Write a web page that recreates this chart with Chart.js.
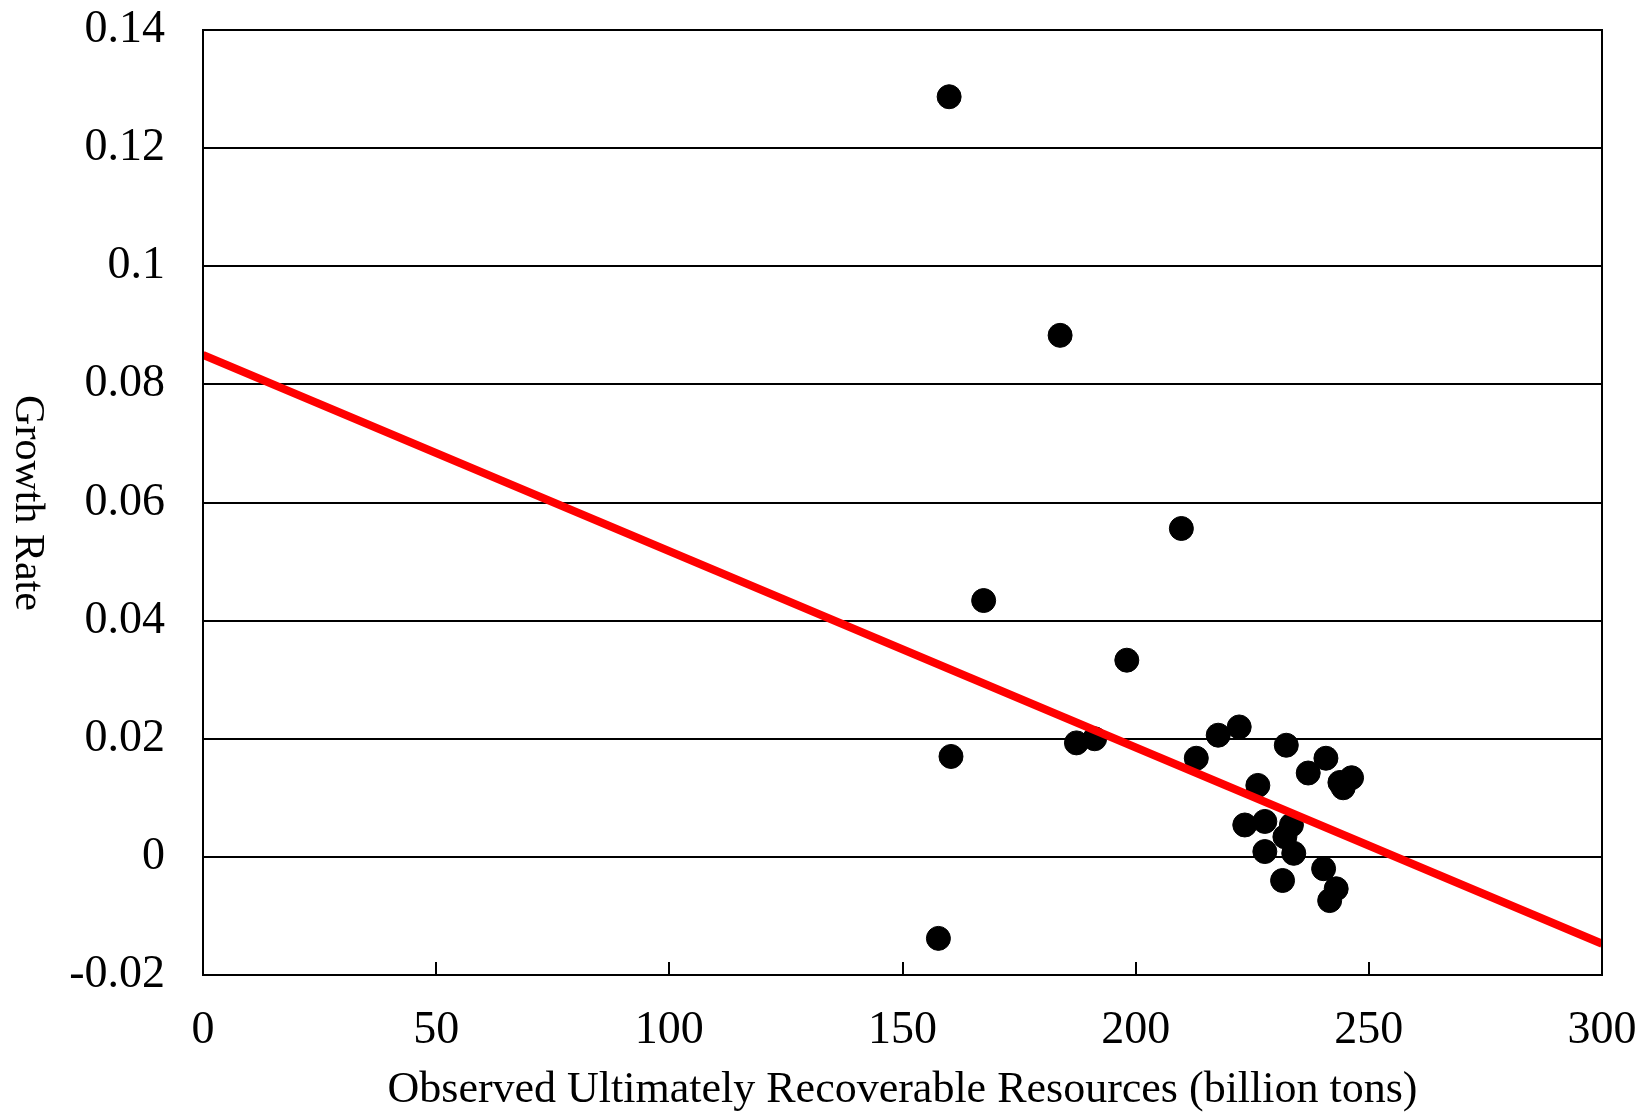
<!DOCTYPE html>
<html>
<head>
<meta charset="utf-8">
<script src="https://cdn.jsdelivr.net/npm/chart.js@4"></script>
<style>
  body { margin: 0; background: #fff; }
  canvas { display: block; }
</style>
</head>
<body>
<canvas id="chart" width="1640" height="1112"></canvas>
<script>
// Observed URR (billion tons) vs growth rate
const urr = [160.0, 183.8, 209.8, 167.4, 198.1, 160.4, 157.7, 187.3, 191.2,
  213.0, 217.7, 222.2, 232.3, 240.8, 237.0, 226.2, 243.8, 244.5, 246.3,
  223.4, 227.7, 233.4, 232.0, 227.7, 233.9, 231.5, 240.3, 243.0, 241.6];
const growth = [0.1287, 0.0883, 0.0556, 0.0434, 0.0333, 0.0170, -0.0138, 0.0193, 0.0200,
  0.0167, 0.0206, 0.0220, 0.0189, 0.0167, 0.0142, 0.0121, 0.0126, 0.0117, 0.0134,
  0.0054, 0.0060, 0.0054, 0.0034, 0.0009, 0.0006, -0.0040, -0.0020, -0.0054, -0.0074];

// fitted trend line end points
const trendX = [0, 300];
const trendY = [0.085, -0.0147];

const yTickLabels = ['-0.02', '0', '0.02', '0.04', '0.06', '0.08', '0.1', '0.12', '0.14'];
const xTickLabels = ['0', '50', '100', '150', '200', '250', '300'];

const serif = '"Liberation Serif", "Times New Roman", serif';

// frame, inward x ticks and the top-to-bottom y title
const extras = {
    id: 'extras',
    afterDraw(chart) {
        const ctx = chart.ctx;
        const a = chart.chartArea;
        const xs = chart.scales.x;
        ctx.save();
        ctx.strokeStyle = '#000';
        ctx.lineWidth = 2;
        ctx.strokeRect(a.left, a.top, a.right - a.left, a.bottom - a.top);
        xs.ticks.forEach(t => {
            const px = Math.round(xs.getPixelForValue(t.value));
            ctx.beginPath();
            ctx.moveTo(px, a.bottom);
            ctx.lineTo(px, a.bottom - 13);
            ctx.stroke();
        });
        ctx.translate(27, 503);
        ctx.rotate(Math.PI / 2);
        ctx.fillStyle = '#000';
        ctx.font = '42px ' + serif;
        ctx.textAlign = 'center';
        ctx.textBaseline = 'middle';
        ctx.fillText('Growth Rate', 0, 0);
        ctx.restore();
    }
};

const ctx = document.getElementById('chart').getContext('2d');
const chart = new Chart(ctx, {
    type: 'scatter',
    data: {
        datasets: [{
            label: 'Observed',
            data: urr.map((x, i) => ({x: x, y: growth[i]})),
            backgroundColor: '#000',
            borderColor: '#000',
            pointRadius: 12,
            order: 1
        }, {
            type: 'line',
            label: 'Trend',
            data: trendX.map((x, i) => ({x: x, y: trendY[i]})),
            borderColor: '#ff0000',
            borderWidth: 8,
            pointRadius: 0,
            fill: false,
            order: 0
        }]
    },
    options: {
        responsive: false,
        animation: false,
        layout: {
            padding: {left: 0, top: 30, right: 38, bottom: 0}
        },
        plugins: {
            legend: {display: false},
            tooltip: {enabled: false}
        },
        scales: {
            x: {
                type: 'linear',
                min: 0,
                max: 300,
                afterFit: s => { s.height = 137; },
                grid: {
                    display: true,
                    drawOnChartArea: false,
                    drawTicks: true,
                    tickLength: 26,
                    tickColor: 'rgba(0,0,0,0)'
                },
                border: {color: '#000', width: 2},
                ticks: {
                    stepSize: 50,
                    padding: 2,
                    color: '#000',
                    font: {family: serif, size: 46},
                    maxRotation: 0,
                    callback: (v, i) => xTickLabels[i]
                },
                title: {
                    display: true,
                    text: 'Observed Ultimately Recoverable Resources (billion tons)',
                    color: '#000',
                    font: {family: serif, size: 44},
                    padding: {top: 0, bottom: -5}
                }
            },
            y: {
                min: -0.02,
                max: 0.14,
                afterFit: s => { s.width = 203; },
                grid: {
                    color: '#000',
                    lineWidth: 2,
                    drawTicks: true,
                    tickLength: 36,
                    tickColor: 'rgba(0,0,0,0)'
                },
                border: {color: '#000', width: 2},
                ticks: {
                    stepSize: 0.02,
                    padding: 2,
                    color: '#000',
                    font: {family: serif, size: 46},
                    callback: (v, i) => yTickLabels[i]
                }
            }
        }
    },
    plugins: [extras]
});
</script>
</body>
</html>
